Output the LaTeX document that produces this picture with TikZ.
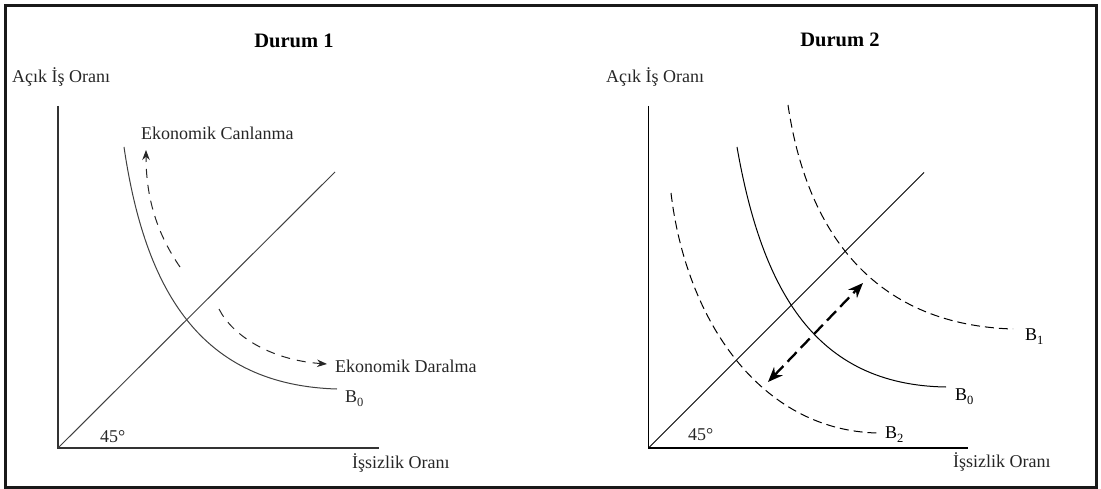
\documentclass[tikz,border=0pt]{standalone}
\usepackage{fontspec}
\setmainfont{Liberation Serif}
\usetikzlibrary{arrows.meta}
\newcommand{\mysub}[1]{\raisebox{-4pt}{\fontsize{12.5}{12.5}\selectfont #1}}
\tikzset{
  lbl/.style={inner sep=0pt, anchor=base west, font=\fontsize{18}{18}\selectfont, text=black!85},
  ttl/.style={inner sep=0pt, anchor=base, font=\fontsize{20.5}{20.5}\selectfont\bfseries},
  axis/.style={line width=1.1pt, black!80},
  thin/.style={line width=1.0pt},
  curveone/.style={line width=1.0pt, black!75},
  dcurve/.style={line width=1.0pt, dash pattern=on 9pt off 5pt},
  arrone/.style={line width=1.0pt, black!85, dash pattern=on 9pt off 7pt, -{Stealth[length=10pt, width=7.5pt]}},
  dbl/.style={line width=2.3pt, dash pattern=on 13pt off 6pt, {Stealth[length=15pt, width=12pt]}-{Stealth[length=15pt, width=12pt]}},
  frame/.style={line width=3pt, black!90}
}
\begin{document}
\begin{tikzpicture}[x=1pt, y=-1pt]
\useasboundingbox (0,0) rectangle (1101,489);
\draw[frame] (5.3,5.8) rectangle (1096.5,487.5);

% ---------- Panel 1 ----------
\node[ttl] (t1) at (294,48) {Durum 1};
\node[lbl] (ya1) at (12,83) {Açık İş Oranı};
\node[lbl] (xa1) at (352,468) {İşsizlik Oranı};
\node[lbl] (ang1) at (100,442) {45°};
\coordinate (o1) at (58,448);
\coordinate (yt1) at (58,106);
\coordinate (xe1) at (379,448);
\coordinate (l1) at (335,172);
\draw[axis] (yt1) -- (o1) -- (xe1);
\draw[curveone] (o1) -- (l1);
\coordinate (b0s1) at (124,147);
\coordinate (b0e1) at (337,389);
\draw[curveone] (b0s1) .. controls (145,290) and (200,385) .. (b0e1);
\node[lbl] (b01) at (345,402) {B\mysub{0}};
\node[lbl] (can) at (141,140) {Ekonomik Canlanma};
\node[lbl] (dar) at (335,372) {Ekonomik Daralma};
\coordinate (cs) at (180,267);
\coordinate (ce) at (146,150);
\draw[arrone] (cs) .. controls (158,235) and (146,200) .. (ce);
\coordinate (ds) at (219,309);
\coordinate (de) at (327,364);
\draw[arrone] (ds) .. controls (232,335) and (270,360) .. (de);

% ---------- Panel 2 ----------
\node[ttl] (t2) at (840,47) {Durum 2};
\node[lbl] (ya2) at (606,83) {Açık İş Oranı};
\node[lbl] (xa2) at (953,467) {İşsizlik Oranı};
\node[lbl] (ang2) at (688,440) {45°};
\coordinate (o2) at (648.5,448);
\coordinate (yt2) at (648.5,106);
\coordinate (xe2) at (968,448);
\coordinate (l2) at (924,172.5);
\draw[axis, black] (yt2) -- (o2) -- (xe2);
\draw[thin] (o2) -- (l2);
% B0
\coordinate (b0s2) at (737,147);
\coordinate (b0e2) at (946,387);
\draw[thin] (b0s2) .. controls (762,290) and (815,385) .. (b0e2);
\node[lbl, text=black] (b02) at (955,400) {B\mysub{0}};
% B1
\coordinate (b1s) at (788,105);
\coordinate (b1e) at (1013,329);
\draw[dcurve] (b1s) .. controls (808,240) and (880,325) .. (b1e);
\node[lbl, text=black] (b1) at (1025,340) {B\mysub{1}};
% B2
\coordinate (b2s) at (671,193);
\coordinate (b2e) at (877,433);
\draw[dcurve] (b2s) .. controls (686,320) and (760,430) .. (b2e);
\node[lbl, text=black] (b2) at (885,438) {B\mysub{2}};
% double arrow
\coordinate (da) at (768,382);
\coordinate (db) at (863,283);
\draw[dbl] (da) -- (db);
\end{tikzpicture}
\end{document}
